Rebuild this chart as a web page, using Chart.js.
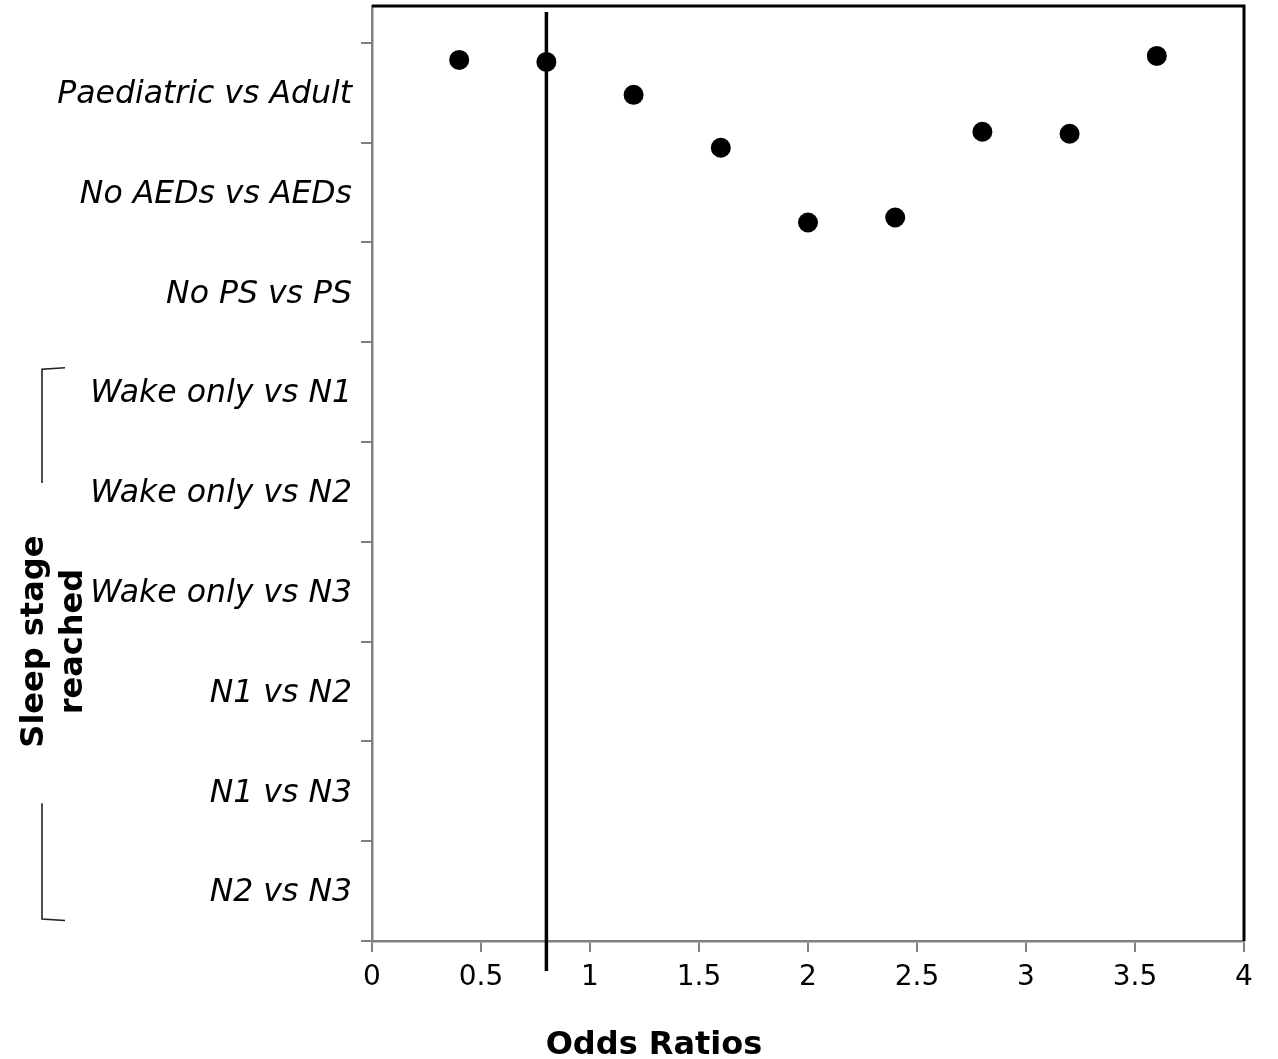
<!DOCTYPE html>
<html>
<head>
<meta charset="utf-8">
<script src="https://cdn.jsdelivr.net/npm/chart.js@4/dist/chart.umd.min.js"></script>
<style>
  html, body { margin: 0; padding: 0; background: #fff; }
  canvas { display: block; }
</style>
</head>
<body>
<canvas id="chart" width="1278" height="1059"></canvas>
<script>
// Row labels (top to bottom) and the y positions they sit at
const yLabels = [
  'Paediatric vs Adult',
  'No AEDs vs AEDs',
  'No PS vs PS',
  'Wake only vs N1',
  'Wake only vs N2',
  'Wake only vs N3',
  'N1 vs N2',
  'N1 vs N3',
  'N2 vs N3'
];
const yLabelValues = [8.5, 7.5, 6.5, 5.5, 4.5, 3.5, 2.5, 1.5, 0.5];

// Odds-ratio axis ticks
const xTickValues = [0, 0.5, 1, 1.5, 2, 2.5, 3, 3.5, 4];
const xTickLabels = ['0', '0.5', '1', '1.5', '2', '2.5', '3', '3.5', '4'];

// Plotted estimates
const orValues = [0.4, 0.8, 1.2, 1.6, 2.0, 2.4, 2.8, 3.2, 3.6];
const rowValues = [8.83, 8.81, 8.48, 7.95, 7.20, 7.25, 8.11, 8.09, 8.87];

// Reference line
const refX = [0.8, 0.8];
const refY = [-0.30, 9.31];

const FONT = 'DejaVu Sans';
const AXIS_GREY = '#808080';

const points = orValues.map((x, i) => ({ x: x, y: rowValues[i] }));
const refLine = refX.map((x, i) => ({ x: x, y: refY[i] }));

// Black frame on the top and right of the plot area
const framePlugin = {
  id: 'frame',
  afterDraw(chart) {
    const { ctx, chartArea: a } = chart;
    ctx.save();
    ctx.strokeStyle = '#000';
    ctx.lineWidth = 3;
    ctx.beginPath();
    ctx.moveTo(a.left, a.top);
    ctx.lineTo(a.right, a.top);
    ctx.lineTo(a.right, a.bottom);
    ctx.stroke();
    ctx.restore();
  }
};

// Axis titles and the bracket grouping the sleep-stage rows
const titlesPlugin = {
  id: 'titles',
  afterDraw(chart) {
    const { ctx } = chart;
    const ys = chart.scales.y;
    ctx.save();
    ctx.fillStyle = '#000';
    ctx.font = 'bold 32px "' + FONT + '"';
    ctx.textAlign = 'center';
    ctx.textBaseline = 'alphabetic';
    ctx.fillText('Odds Ratios', 654, 1054);

    const cy = ys.getPixelForValue(3.0);
    ctx.save();
    ctx.translate(43, cy);
    ctx.rotate(-Math.PI / 2);
    ctx.fillText('Sleep stage', 0, 0);
    ctx.restore();
    ctx.save();
    ctx.translate(82, cy);
    ctx.rotate(-Math.PI / 2);
    ctx.fillText('reached', 0, 0);
    ctx.restore();

    // bracket
    ctx.strokeStyle = '#222';
    ctx.lineWidth = 1.6;
    const top = ys.getPixelForValue(5.73);
    const gapTop = ys.getPixelForValue(4.59);
    const gapBottom = ys.getPixelForValue(1.38);
    const bottom = ys.getPixelForValue(0.22);
    ctx.beginPath();
    ctx.moveTo(65, top - 1.5);
    ctx.lineTo(42, top);
    ctx.lineTo(42, gapTop);
    ctx.moveTo(42, gapBottom);
    ctx.lineTo(42, bottom);
    ctx.lineTo(65, bottom + 1.5);
    ctx.stroke();
    ctx.restore();
  }
};

new Chart(document.getElementById('chart'), {
  type: 'scatter',
  data: {
    datasets: [
      {
        data: points,
        backgroundColor: '#000',
        borderColor: '#000',
        borderWidth: 0,
        pointRadius: 10,
        pointHoverRadius: 10
      },
      {
        data: refLine,
        showLine: true,
        borderColor: '#000',
        borderWidth: 3.5,
        pointRadius: 0,
        pointHoverRadius: 0,
        clip: false
      }
    ]
  },
  options: {
    responsive: false,
    animation: false,
    events: [],
    layout: { autoPadding: false, padding: { top: 6, right: 34, left: 0, bottom: 0 } },
    plugins: {
      legend: { display: false },
      tooltip: { enabled: false }
    },
    scales: {
      x: {
        type: 'linear',
        min: 0,
        max: 4,
        afterBuildTicks: s => { s.ticks = xTickValues.map(v => ({ value: v })); },
        afterFit: s => {
          s.height = 118;
          s.paddingLeft = 0;
          s.paddingRight = 0;
        },
        ticks: {
          autoSkip: false,
          maxRotation: 0,
          color: '#000',
          padding: 9,
          font: { family: FONT, size: 28 },
          callback: (v, i) => xTickLabels[i]
        },
        grid: {
          drawOnChartArea: false,
          drawTicks: true,
          tickLength: 11,
          color: AXIS_GREY,
          lineWidth: 2
        },
        border: { display: true, color: AXIS_GREY, width: 2.5 }
      },
      y: {
        type: 'linear',
        min: 0,
        max: 9.37,
        afterBuildTicks: s => { s.ticks = yLabelValues.map(v => ({ value: v })); },
        afterFit: s => {
          s.width = 372;
          s.paddingTop = 0;
          s.paddingBottom = 0;
        },
        ticks: {
          autoSkip: false,
          color: '#000',
          padding: 9,
          labelOffset: 2,
          font: { family: FONT, style: 'italic', size: 31.5 },
          callback: (v, i) => yLabels[i]
        },
        grid: {
          offset: true,
          drawOnChartArea: false,
          drawTicks: true,
          tickLength: 11,
          color: AXIS_GREY,
          lineWidth: 2
        },
        border: { display: true, color: AXIS_GREY, width: 2.5 }
      }
    }
  },
  plugins: [framePlugin, titlesPlugin]
});
</script>
</body>
</html>
